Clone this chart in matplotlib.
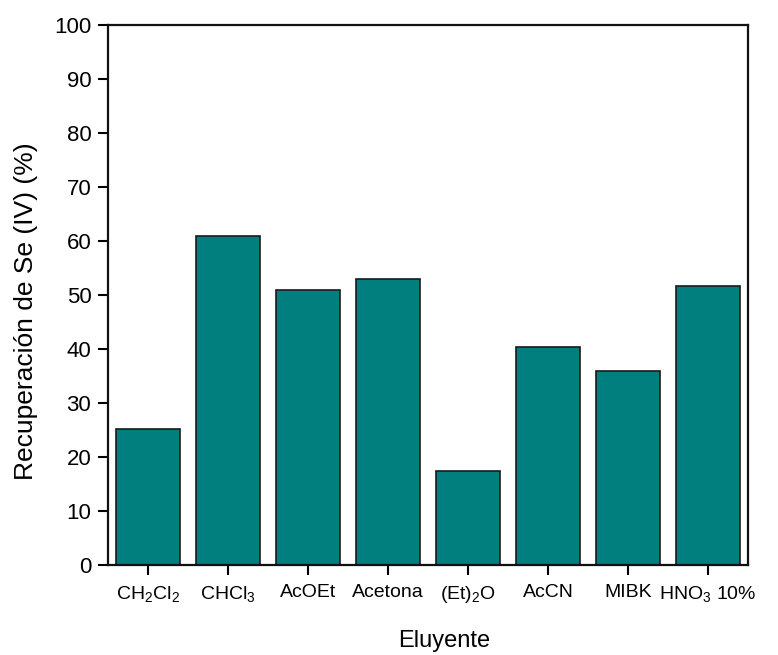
import matplotlib
matplotlib.use("Agg")
import matplotlib.pyplot as plt
import numpy as np

categories = ["CH$\\mathregular{_2}$Cl$\\mathregular{_2}$", "CHCl$\\mathregular{_3}$", "AcOEt", "Acetona",
              "(Et)$\\mathregular{_2}$O", "AcCN", "MIBK", "HNO$\\mathregular{_3}$ 10%"]
values = [25.1, 61.0, 51.0, 53.0, 17.4, 40.4, 35.9, 51.7]
yticks = [0, 10, 20, 30, 40, 50, 60, 70, 80, 90, 100]

plt.rcParams['font.family'] = ['Liberation Sans', 'DejaVu Sans']
plt.rcParams['mathtext.fontset'] = 'custom'
plt.rcParams['mathtext.rm'] = 'Liberation Sans'
plt.rcParams['mathtext.it'] = 'Liberation Sans:italic'
plt.rcParams['mathtext.bf'] = 'Liberation Sans:bold'

fig = plt.figure(figsize=(7.78, 6.55), dpi=100)
ax = fig.add_axes([108/778, 1-565/655, 640/778, 540/655])

x = np.arange(len(categories))
ax.bar(x, values, width=0.8, color='#007f7f', edgecolor='#1a1a1a', linewidth=1.2)

ax.set_xlim(-0.5, len(categories) - 0.5)
ax.set_ylim(0, 100)
ax.set_yticks(yticks)
ax.set_xticks(x)
ax.set_xticklabels(categories, fontsize=14)
ax.tick_params(axis='y', labelsize=16, direction='out', length=7, width=1.5, pad=5)
ax.tick_params(axis='x', direction='out', length=7, width=1.5, pad=7)
for s in ax.spines.values():
    s.set_linewidth(1.6)
    s.set_color('#111111')

ax.set_ylabel("Recuperación de Se (IV) (%)", fontsize=19)
ax.set_xlabel("Eluyente", fontsize=17)
ax.yaxis.set_label_coords(-0.11, 0.47)
ax.xaxis.set_label_coords(0.525, -0.12)

fig.savefig("out.png", dpi=100, facecolor='white')
